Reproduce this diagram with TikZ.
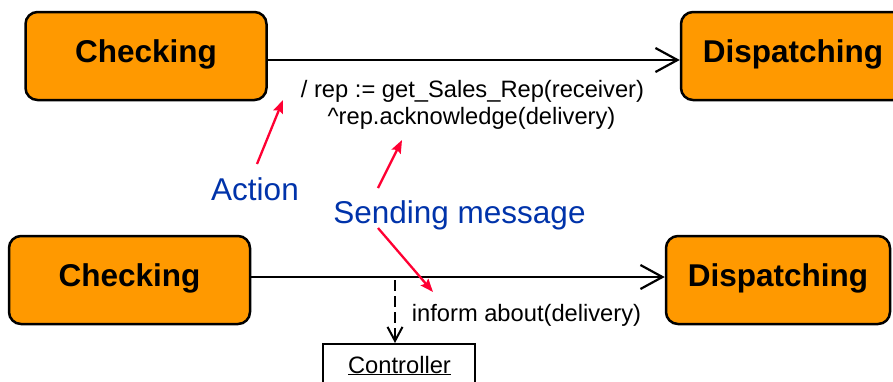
\documentclass[tikz,border=0pt]{standalone}
\usepackage{fontspec}
\setmainfont{Liberation Sans}
\usetikzlibrary{arrows.meta}
\definecolor{stateorange}{RGB}{255,153,0}
\definecolor{notered}{RGB}{255,0,51}
\definecolor{noteblue}{RGB}{0,51,170}
\begin{document}
\begin{tikzpicture}[x=1pt,y=-1pt,
  statebox/.style={draw=black, line width=2.5pt, fill=stateorange, rounded corners=12pt,
    minimum height=88pt, inner sep=0pt, text height=12.6pt, text depth=0pt,
    font=\fontsize{31.5}{36}\selectfont\bfseries},
  trans/.style={line width=2.2pt, -{Straight Barb[length=22pt,width=24pt,line width=2.2pt]}},
  redarrow/.style={notered, line width=2.3pt, -{Stealth[length=13pt,width=10pt,inset=2pt]}},
  smalltxt/.style={font=\fontsize{23.7}{27}\selectfont, inner sep=0pt, anchor=base},
  bluetxt/.style={font=\fontsize{31.5}{36}\selectfont, text=noteblue, inner sep=0pt, anchor=base}]
\useasboundingbox (0,0) rectangle (893,381);
\clip (0,0) rectangle (893,381);
\fill[white] (0,0) rectangle (893,381);

% top transition
\node[statebox, minimum width=241pt] (chkA) at (146,56) {Checking};
\node[statebox, minimum width=224pt] (dispA) at (793,56) {Dispatching};
\draw[trans] ([yshift=-4pt]chkA.east) -- ([yshift=-4pt]dispA.west);
\node[smalltxt] (effA) at (472.5,97) {/ rep := get\_Sales\_Rep(receiver)};
\node[smalltxt] (effB) at (471.5,124) {\string^rep.acknowledge(delivery)};

% labels
\node[bluetxt] (action) at (255,200) {Action};
\node[bluetxt] (sending) at (459.5,223) {Sending message};

% bottom transition
\node[statebox, minimum width=241pt] (chkB) at (129.5,280) {Checking};
\node[statebox, minimum width=224pt] (dispB) at (778,280) {Dispatching};
\draw[trans] ([yshift=3pt]chkB.east) -- ([yshift=3pt]dispB.west);
\node[smalltxt] (inform) at (526.5,321) {inform about(delivery)};

% controller
\node[draw=black, line width=2pt, minimum width=152pt, minimum height=80pt, inner sep=0pt] (ctrl) at (399,384) {};
\node[smalltxt] (ctrltxt) at (399.5,373) {\underline{Controller}};
\coordinate (dashStart) at (395,280);
\draw[line width=2pt, dash pattern=on 11pt off 5pt,
  -{Straight Barb[length=14pt,width=15pt,line width=2pt]}] (dashStart) -- (dashStart |- ctrl.north);

% red pointers
\coordinate (actTail) at (257,164);
\coordinate (actTip) at (283,100);
\coordinate (sendTailA) at (378,188);
\coordinate (sendTipA) at (402,140);
\coordinate (sendTailB) at (378,228);
\coordinate (sendTipB) at (433,292);
\draw[redarrow] (actTail) -- (actTip);
\draw[redarrow] (sendTailA) -- (sendTipA);
\draw[redarrow] (sendTailB) -- (sendTipB);
\end{tikzpicture}
\end{document}
